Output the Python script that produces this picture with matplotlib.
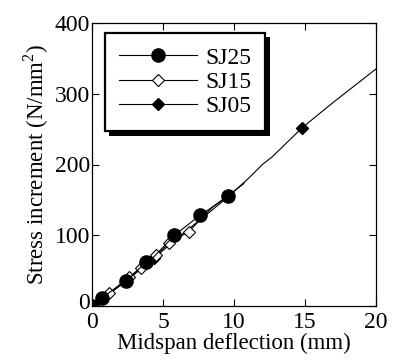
import matplotlib
matplotlib.use("Agg")
from matplotlib import pyplot as plt
import matplotlib.patheffects as pe
import matplotlib.transforms as mtransforms

plt.rcParams['font.family'] = ['Liberation Serif', 'DejaVu Serif']
plt.rcParams['mathtext.fontset'] = 'custom'
plt.rcParams['mathtext.rm'] = 'Liberation Serif'

# SJ25 - filled circles
sj25_x = [0, 0.2, 0.7, 2.4, 3.8, 4.1, 5.8, 7.6, 9.6, 10.0]
sj25_y = [0, 4, 12, 35, 62, 64, 100, 128, 155, 160]
# SJ15 - open diamonds
sj15_x = [0, 1.2, 2.6, 3.45, 4.5, 5.45, 6.8, 8.5, 10.7]
sj15_y = [0, 18, 41, 54, 72, 89, 105, 140, 173]
# SJ05 - filled diamonds
sj05_x = [0, 0.5, 1.2, 2.4, 4.4, 6.0, 8.0, 9.5, 11.0, 12.0, 12.7, 14.8, 17.0, 20.0]
sj05_y = [0, 7, 17, 35, 68, 96, 128, 153, 180, 200, 211, 252, 288, 335]

fig = plt.figure(figsize=(3.94, 3.6), dpi=100)
ax = fig.add_axes([92/394, 1-306/360, 284/394, 283/360])

ax.plot(sj05_x, sj05_y, color='black', lw=0.8, marker='D', ms=6.5,
        mfc='black', mec='black', markevery=[0, 3, 4, 11], label='SJ05', zorder=2)
ax.plot(sj15_x, sj15_y, color='black', lw=0.8, marker='D', ms=6.5,
        mfc='white', mec='black', mew=0.8, markevery=[0, 1, 2, 3, 4, 5, 6], label='SJ15', zorder=3)
ax.plot(sj25_x, sj25_y, color='black', lw=0.8, marker='o', ms=9.5,
        mfc='black', mec='black', markevery=[0, 2, 3, 4, 6, 7, 8], label='SJ25', zorder=4)

ax.set_xlim(0, 20)
ax.set_ylim(0, 400)
ax.set_xticks([0, 5, 10, 15, 20])
ax.set_yticks([0, 100, 200, 300, 400])
ax.tick_params(direction='in', top=True, right=True, length=5, width=0.8,
               labelsize=17)
ax.tick_params(axis='x', pad=4)
ax.tick_params(axis='y', pad=1.5)
for s in ax.spines.values():
    s.set_linewidth(0.9)

# nudge the y "0" up a little so it does not sit on the x "0"
zero_lbl = ax.get_yticklabels()[0]
zero_lbl.set_transform(zero_lbl.get_transform() +
                       mtransforms.ScaledTranslation(0, 5/100, fig.dpi_scale_trans))

ax.set_xlabel('Midspan deflection (mm)', fontsize=16.5, labelpad=0)
ax.set_ylabel('Stress increment (N/mm$^2$)', fontsize=16.5, labelpad=2.5)

handles, labels = ax.get_legend_handles_labels()
order = [2, 1, 0]
leg = ax.legend([handles[i] for i in order], [labels[i] for i in order],
                loc='upper left', bbox_to_anchor=(0.045, 0.965), fontsize=17,
                fancybox=False, shadow=False, handlelength=3.3,
                handletextpad=0.35, labelspacing=0.12, borderpad=0.6,
                borderaxespad=0, framealpha=1)
frame = leg.get_frame()
frame.set_edgecolor('black')
frame.set_linewidth(1.6)
frame.set_path_effects([pe.SimplePatchShadow(offset=(3, -3), shadow_rgbFace='black', alpha=1), pe.Normal()])

fig.savefig('out.png', dpi=100)
